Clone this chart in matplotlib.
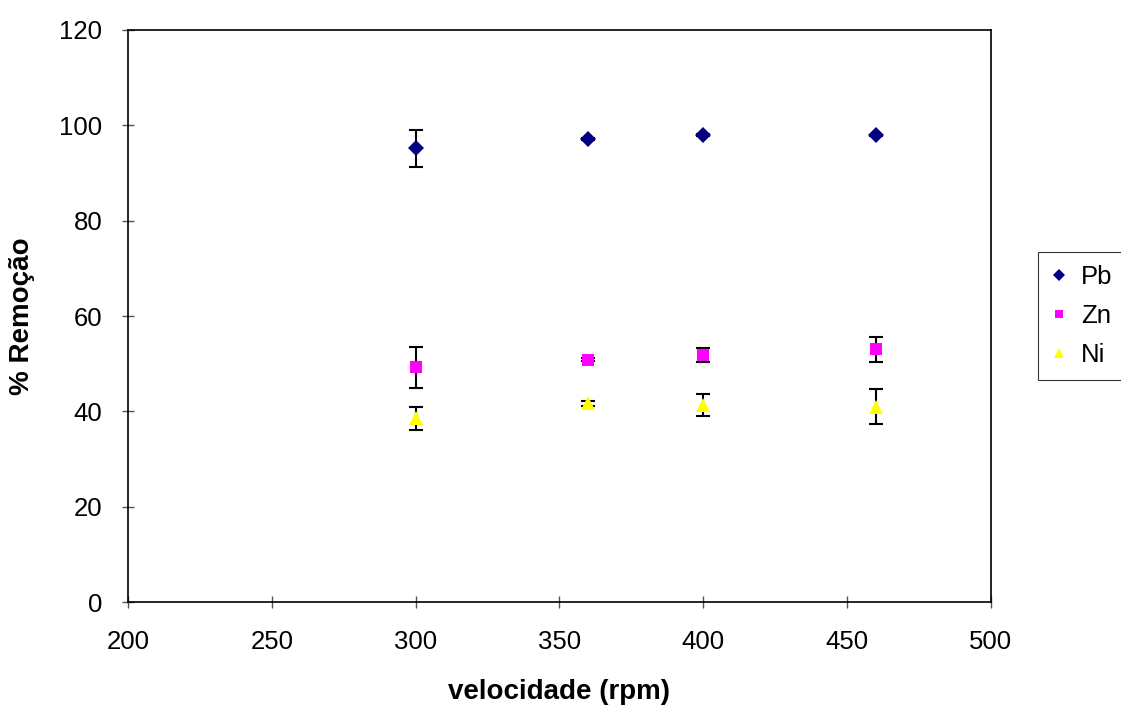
import matplotlib.pyplot as plt

plt.rcParams['font.family'] = ['Liberation Sans', 'DejaVu Sans']

velocidade = [300, 360, 400, 460]

pb = [95.2, 97.1, 97.9, 97.9]
pb_err = [3.85, 0.15, 0.2, 0.1]

zn = [49.2, 50.8, 51.8, 53.0]
zn_err = [4.4, 0.3, 1.4, 2.6]

ni = [38.5, 41.7, 41.3, 41.0]
ni_err = [2.4, 0.5, 2.3, 3.6]

fig = plt.figure(figsize=(11.21, 7.09), dpi=100)
ax = fig.add_axes([0.1142, 0.1509, 0.7698, 0.8068])

series = [
    ('Pb', pb, pb_err, 'D', '#000080', 8.5),
    ('Zn', zn, zn_err, 's', '#FF00FF', 8),
    ('Ni', ni, ni_err, '^', '#FFFF00', 10.5),
]
for name, vals, err, mk, col, ms in series:
    ax.errorbar(velocidade, vals, yerr=err, fmt='none', ecolor='black',
                elinewidth=1.5, capsize=5, capthick=1.5, zorder=2)
    ax.plot(velocidade, vals, linestyle='none', marker=mk, color=col,
            markersize=ms, markeredgewidth=0, label=name, zorder=3)

ax.set_xlim(200, 500)
ax.set_ylim(0, 120)
ax.set_xticks(range(200, 501, 50))
ax.set_yticks(range(0, 121, 20))
ax.tick_params(labelsize=18.5, direction='inout', length=9, width=1,
               color='#555555')
ax.tick_params(axis='x', pad=16)
ax.tick_params(axis='y', pad=14)
for sp in ax.spines.values():
    sp.set_linewidth(1.2)

ax.set_xlabel('velocidade (rpm)', fontsize=20, fontweight='bold', va='center')
ax.set_ylabel('% Remoção', fontsize=20, fontweight='bold', va='center')
ax.xaxis.set_label_coords(0.5, -0.157)
ax.yaxis.set_label_coords(-0.1228, 0.5)

leg = ax.legend(loc='center left', bbox_to_anchor=(1.054, 0.5), fontsize=18.5,
                frameon=True, fancybox=False, edgecolor='black',
                handlelength=0.7, handletextpad=0.5, borderpad=0.5,
                labelspacing=0.6, markerscale=0.7, borderaxespad=0)
leg.get_frame().set_linewidth(0.8)

fig.savefig('out.png', dpi=100)
